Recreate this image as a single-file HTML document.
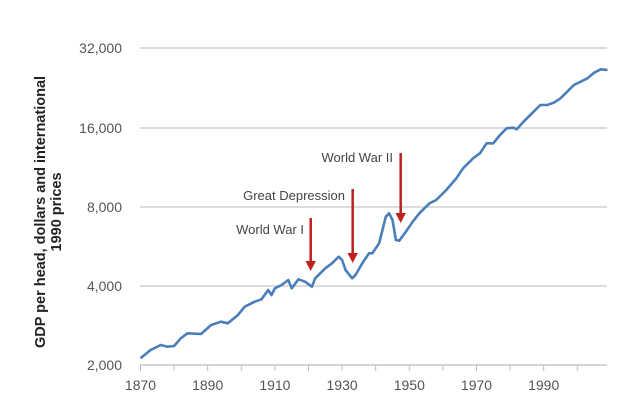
<!DOCTYPE html>
<html><head><meta charset="utf-8"><style>
html,body{margin:0;padding:0;background:#fff;}
svg text{font-family:"Liberation Sans",sans-serif;}
</style></head><body>
<svg id="s" width="639" height="404" viewBox="0 0 639 404" xmlns="http://www.w3.org/2000/svg">
<g stroke="#c8c8c8" stroke-width="1.3">
<line x1="140" y1="48" x2="607" y2="48"/>
<line x1="140" y1="128" x2="607" y2="128"/>
<line x1="140" y1="207" x2="607" y2="207"/>
<line x1="140" y1="286" x2="607" y2="286"/>
</g>
<line x1="140" y1="365" x2="607" y2="365" stroke="#bbb" stroke-width="1.3"/>
<g id="ticks" stroke="#bbb" stroke-width="1"></g>
<g font-size="14" fill="#555" text-anchor="end">
<text x="122" y="53">32,000</text>
<text x="122" y="133">16,000</text>
<text x="122" y="212">8,000</text>
<text x="122" y="291">4,000</text>
<text x="122" y="370">2,000</text>
</g>
<g font-size="14" fill="#555" text-anchor="middle">
<text x="140.5" y="390">1870</text>
<text x="207.7" y="390">1890</text>
<text x="274.9" y="390">1910</text>
<text x="342.1" y="390">1930</text>
<text x="409.3" y="390">1950</text>
<text x="476.5" y="390">1970</text>
<text x="543.7" y="390">1990</text>
</g>
<g transform="translate(45,212) rotate(-90)" font-size="14.5" font-weight="bold" fill="#222" text-anchor="middle">
<text x="0" y="0">GDP per head, dollars and international</text>
<text x="0" y="16">1990 prices</text>
</g>
<polyline id="line" fill="none" stroke="#4a7ebb" stroke-width="2.6" stroke-linejoin="round"/>
<g font-size="13" fill="#444" text-anchor="end">
<text x="393" y="162">World War II</text>
<text x="345" y="200">Great Depression</text>
<text x="304" y="234">World War I</text>
</g>
<g stroke="#c0201e" stroke-width="2.5">
<line x1="310.7" y1="218" x2="310.7" y2="263"/>
<line x1="352.7" y1="189" x2="352.7" y2="255"/>
<line x1="400.7" y1="153" x2="400.7" y2="215"/>
</g>
<g fill="#c0201e">
<polygon points="305.5,261 315.9,261 310.7,271"/>
<polygon points="347.5,253 357.9,253 352.7,263"/>
<polygon points="395.5,213 405.9,213 400.7,223"/>
</g>
</svg>
<script>
var d=[[1870,985],[1873,960],[1876,945],[1878,950],[1880,948],[1882,925],[1884,910],[1888,912],[1891,885],[1894,875],[1896,880],[1899,855],[1901,830],[1904,815],[1906,808],[1908,780],[1909,795],[1910,775],[1912,765],[1914,750],[1915,775],[1917,748],[1919,755],[1921,770],[1922,745],[1925,715],[1927,700],[1929,680],[1930,690],[1931,720],[1933,745],[1934,735],[1936,700],[1938,670],[1939,670],[1941,640],[1943,560],[1944,550],[1945,570],[1946,630],[1947,632],[1949,605],[1951,575],[1953,550],[1956,520],[1958,510],[1961,480],[1964,445],[1966,415],[1969,385],[1971,370],[1973,340],[1975,340],[1977,315],[1979,295],[1981,293],[1982,298],[1984,275],[1987,245],[1989,225],[1991,225],[1993,218],[1995,205],[1997,185],[1999,165],[2001,155],[2003,145],[2005,128],[2007,118],[2009,120]];
var p=d.map(function(a){return (140.5+(a[0]-1870)*3.36).toFixed(1)+","+(30+a[1]/3).toFixed(1);}).join(" ");
document.getElementById("line").setAttribute("points",p);
var t="";for(var y=1870;y<=2000;y+=10){var x=140.5+(y-1870)*3.36;t+='<line x1="'+x+'" y1="365" x2="'+x+'" y2="371"/>';}
document.getElementById("ticks").innerHTML=t;
</script>
</body></html>
